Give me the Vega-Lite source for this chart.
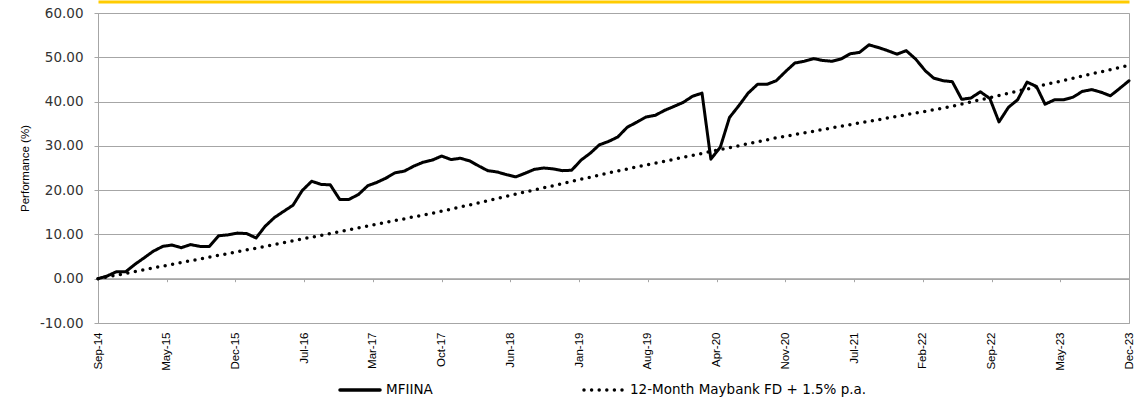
{
  "$schema": "https://vega.github.io/schema/vega-lite/v6.json",
  "width": 1031,
  "height": 310,
  "autosize": {"type": "none"},
  "padding": {"left": 98, "top": 13, "right": 14, "bottom": 77},
  "background": "white",
  "data": {"values": [
    {"date": "2014-09-01", "fund": 0.0, "fd": 0.0},
    {"date": "2014-10-01", "fund": 0.6, "fd": 0.41},
    {"date": "2014-11-01", "fund": 1.6, "fd": 0.81},
    {"date": "2014-12-01", "fund": 1.6, "fd": 1.22},
    {"date": "2015-01-01", "fund": 3.3, "fd": 1.62},
    {"date": "2015-02-01", "fund": 4.8, "fd": 2.03},
    {"date": "2015-03-01", "fund": 6.2, "fd": 2.43},
    {"date": "2015-04-01", "fund": 7.3, "fd": 2.84},
    {"date": "2015-05-01", "fund": 7.6, "fd": 3.24},
    {"date": "2015-06-01", "fund": 7.0, "fd": 3.65},
    {"date": "2015-07-01", "fund": 7.7, "fd": 4.06},
    {"date": "2015-08-01", "fund": 7.3, "fd": 4.46},
    {"date": "2015-09-01", "fund": 7.3, "fd": 4.87},
    {"date": "2015-10-01", "fund": 9.7, "fd": 5.27},
    {"date": "2015-11-01", "fund": 9.9, "fd": 5.68},
    {"date": "2015-12-01", "fund": 10.3, "fd": 6.08},
    {"date": "2016-01-01", "fund": 10.2, "fd": 6.49},
    {"date": "2016-02-01", "fund": 9.2, "fd": 6.89},
    {"date": "2016-03-01", "fund": 11.8, "fd": 7.30},
    {"date": "2016-04-01", "fund": 13.8, "fd": 7.72},
    {"date": "2016-05-01", "fund": 15.2, "fd": 8.13},
    {"date": "2016-06-01", "fund": 16.6, "fd": 8.55},
    {"date": "2016-07-01", "fund": 19.9, "fd": 8.96},
    {"date": "2016-08-01", "fund": 22.0, "fd": 9.38},
    {"date": "2016-09-01", "fund": 21.3, "fd": 9.80},
    {"date": "2016-10-01", "fund": 21.2, "fd": 10.21},
    {"date": "2016-11-01", "fund": 17.9, "fd": 10.63},
    {"date": "2016-12-01", "fund": 17.9, "fd": 11.04},
    {"date": "2017-01-01", "fund": 19.0, "fd": 11.46},
    {"date": "2017-02-01", "fund": 21.0, "fd": 11.88},
    {"date": "2017-03-01", "fund": 21.7, "fd": 12.29},
    {"date": "2017-04-01", "fund": 22.7, "fd": 12.71},
    {"date": "2017-05-01", "fund": 23.9, "fd": 13.12},
    {"date": "2017-06-01", "fund": 24.3, "fd": 13.54},
    {"date": "2017-07-01", "fund": 25.4, "fd": 13.96},
    {"date": "2017-08-01", "fund": 26.3, "fd": 14.37},
    {"date": "2017-09-01", "fund": 26.8, "fd": 14.79},
    {"date": "2017-10-01", "fund": 27.7, "fd": 15.24},
    {"date": "2017-11-01", "fund": 26.9, "fd": 15.72},
    {"date": "2017-12-01", "fund": 27.2, "fd": 16.20},
    {"date": "2018-01-01", "fund": 26.6, "fd": 16.68},
    {"date": "2018-02-01", "fund": 25.4, "fd": 17.16},
    {"date": "2018-03-01", "fund": 24.4, "fd": 17.65},
    {"date": "2018-04-01", "fund": 24.1, "fd": 18.13},
    {"date": "2018-05-01", "fund": 23.5, "fd": 18.61},
    {"date": "2018-06-01", "fund": 23.0, "fd": 19.09},
    {"date": "2018-07-01", "fund": 23.8, "fd": 19.57},
    {"date": "2018-08-01", "fund": 24.7, "fd": 20.05},
    {"date": "2018-09-01", "fund": 25.0, "fd": 20.53},
    {"date": "2018-10-01", "fund": 24.8, "fd": 21.01},
    {"date": "2018-11-01", "fund": 24.4, "fd": 21.49},
    {"date": "2018-12-01", "fund": 24.5, "fd": 21.97},
    {"date": "2019-01-01", "fund": 26.8, "fd": 22.46},
    {"date": "2019-02-01", "fund": 28.4, "fd": 22.94},
    {"date": "2019-03-01", "fund": 30.2, "fd": 23.42},
    {"date": "2019-04-01", "fund": 31.0, "fd": 23.90},
    {"date": "2019-05-01", "fund": 32.0, "fd": 24.34},
    {"date": "2019-06-01", "fund": 34.2, "fd": 24.78},
    {"date": "2019-07-01", "fund": 35.3, "fd": 25.22},
    {"date": "2019-08-01", "fund": 36.5, "fd": 25.66},
    {"date": "2019-09-01", "fund": 36.9, "fd": 26.09},
    {"date": "2019-10-01", "fund": 38.0, "fd": 26.53},
    {"date": "2019-11-01", "fund": 38.9, "fd": 26.97},
    {"date": "2019-12-01", "fund": 39.8, "fd": 27.41},
    {"date": "2020-01-01", "fund": 41.2, "fd": 27.85},
    {"date": "2020-02-01", "fund": 41.9, "fd": 28.29},
    {"date": "2020-03-01", "fund": 27.0, "fd": 28.73},
    {"date": "2020-04-01", "fund": 29.7, "fd": 29.17},
    {"date": "2020-05-01", "fund": 36.4, "fd": 29.61},
    {"date": "2020-06-01", "fund": 39.1, "fd": 30.04},
    {"date": "2020-07-01", "fund": 41.9, "fd": 30.48},
    {"date": "2020-08-01", "fund": 43.9, "fd": 30.92},
    {"date": "2020-09-01", "fund": 43.9, "fd": 31.36},
    {"date": "2020-10-01", "fund": 44.7, "fd": 31.80},
    {"date": "2020-11-01", "fund": 46.8, "fd": 32.17},
    {"date": "2020-12-01", "fund": 48.7, "fd": 32.55},
    {"date": "2021-01-01", "fund": 49.1, "fd": 32.92},
    {"date": "2021-02-01", "fund": 49.7, "fd": 33.30},
    {"date": "2021-03-01", "fund": 49.3, "fd": 33.67},
    {"date": "2021-04-01", "fund": 49.1, "fd": 34.05},
    {"date": "2021-05-01", "fund": 49.6, "fd": 34.42},
    {"date": "2021-06-01", "fund": 50.8, "fd": 34.79},
    {"date": "2021-07-01", "fund": 51.1, "fd": 35.17},
    {"date": "2021-08-01", "fund": 52.8, "fd": 35.54},
    {"date": "2021-09-01", "fund": 52.2, "fd": 35.92},
    {"date": "2021-10-01", "fund": 51.5, "fd": 36.29},
    {"date": "2021-11-01", "fund": 50.7, "fd": 36.67},
    {"date": "2021-12-01", "fund": 51.5, "fd": 37.04},
    {"date": "2022-01-01", "fund": 49.6, "fd": 37.42},
    {"date": "2022-02-01", "fund": 47.0, "fd": 37.79},
    {"date": "2022-03-01", "fund": 45.3, "fd": 38.16},
    {"date": "2022-04-01", "fund": 44.7, "fd": 38.54},
    {"date": "2022-05-01", "fund": 44.5, "fd": 38.95},
    {"date": "2022-06-01", "fund": 40.5, "fd": 39.43},
    {"date": "2022-07-01", "fund": 40.8, "fd": 39.92},
    {"date": "2022-08-01", "fund": 42.2, "fd": 40.41},
    {"date": "2022-09-01", "fund": 40.7, "fd": 40.90},
    {"date": "2022-10-01", "fund": 35.4, "fd": 41.38},
    {"date": "2022-11-01", "fund": 38.7, "fd": 41.87},
    {"date": "2022-12-01", "fund": 40.4, "fd": 42.36},
    {"date": "2023-01-01", "fund": 44.4, "fd": 42.84},
    {"date": "2023-02-01", "fund": 43.4, "fd": 43.33},
    {"date": "2023-03-01", "fund": 39.4, "fd": 43.82},
    {"date": "2023-04-01", "fund": 40.4, "fd": 44.31},
    {"date": "2023-05-01", "fund": 40.4, "fd": 44.79},
    {"date": "2023-06-01", "fund": 41.0, "fd": 45.28},
    {"date": "2023-07-01", "fund": 42.3, "fd": 45.77},
    {"date": "2023-08-01", "fund": 42.7, "fd": 46.25},
    {"date": "2023-09-01", "fund": 42.1, "fd": 46.74},
    {"date": "2023-10-01", "fund": 41.3, "fd": 47.23},
    {"date": "2023-11-01", "fund": 43.0, "fd": 47.71},
    {"date": "2023-12-01", "fund": 44.7, "fd": 48.20}
  ]},
  "resolve": {"axis": {"x": "independent", "y": "independent"}},
  "layer": [
    {
      "mark": {"type": "rule", "color": "#a6a6a6", "strokeWidth": 1},
      "encoding": {
        "x": {"aggregate": "min", "field": "date", "type": "temporal",
              "scale": {"type": "utc", "domain": [1409529600000, 1701388800000], "nice": false},
              "axis": {"orient": "bottom", "offset": -44.3, "values": [1409529600000, 1428986880000, 1448444160000, 1467901440000, 1487358720000, 1506816000000, 1526273280000, 1545730560000, 1565187840000, 1584645120000, 1604102400000, 1623559680000, 1643016960000, 1662474240000, 1681931520000, 1701388800000],
                       "labels": false, "domain": false, "grid": false, "ticks": true, "tickSize": 3, "tickColor": "#a6a6a6", "title": null}},
        "x2": {"aggregate": "max", "field": "date"},
        "y": {"datum": 0, "type": "quantitative",
              "scale": {"domain": [-10, 60], "nice": false, "zero": false},
              "axis": {"orient": "left", "values": [-10, 0, 10, 20, 30, 40, 50, 60],
                       "labelExpr": "(datum.value < 0 ? '-' : '') + format(abs(datum.value), '.2f')",
                       "labelFont": "DejaVu Sans", "labelFontSize": 13.5, "labelColor": "#333333",
                       "labelPadding": 11, "tickSize": 4, "tickColor": "#a6a6a6", "domainColor": "#a6a6a6",
                       "grid": true, "gridColor": "#a6a6a6",
                       "title": "Performance (%)", "titleFont": "Liberation Sans", "titleFontSize": 11.5,
                       "titleFontWeight": "normal", "titleColor": "black",
                       "titleAngle": 270, "titleX": -73, "titleY": 155, "titleAlign": "center", "titleBaseline": "middle"}}
      }
    },
    {
      "mark": {"type": "line", "color": "black", "strokeWidth": 3, "strokeJoin": "round", "strokeCap": "round"},
      "encoding": {
        "x": {"field": "date", "type": "temporal",
              "scale": {"type": "utc", "domain": [1409529600000, 1701388800000], "nice": false},
              "axis": {"orient": "bottom", "values": [1409529600000, 1428986880000, 1448444160000, 1467901440000, 1487358720000, 1506816000000, 1526273280000, 1545730560000, 1565187840000, 1584645120000, 1604102400000, 1623559680000, 1643016960000, 1662474240000, 1681931520000, 1701388800000],
                       "labelExpr": "['Sep-14','May-15','Dec-15','Jul-16','Mar-17','Oct-17','Jun-18','Jan-19','Aug-19','Apr-20','Nov-20','Jul-21','Feb-22','Sep-22','May-23','Dec-23'][round((datum.value - 1409529600000) / 19457280000)]",
                       "labelAngle": 270, "labelAlign": "right", "labelBaseline": "middle", "labelPadding": 9,
                       "ticks": false, "tickSize": 0, "grid": false, "domainColor": "#a6a6a6",
                       "labelFont": "Liberation Sans", "labelFontSize": 11.5, "labelColor": "black",
                       "labelOverlap": false, "labelFlush": false, "title": null}},
        "y": {"field": "fund", "type": "quantitative", "axis": null},
        "strokeDash": {"datum": "MFIINA", "type": "nominal",
                       "scale": {"domain": ["MFIINA", "12-Month Maybank FD + 1.5% p.a."], "range": [[1, 0], [0, 7.6]]},
                       "legend": {"orient": "none", "legendX": 240, "legendY": 355, "direction": "horizontal", "title": null,
                                  "symbolType": "stroke", "symbolSize": 1600, "symbolStrokeWidth": 3.5, "symbolStrokeColor": "black",
                                  "labelFont": "DejaVu Sans", "labelFontSize": 13.5, "labelColor": "black", "labelOffset": 4,
                                  "labelLimit": 400, "columnPadding": 144,
                                  "encode": {"symbols": {"update": {"strokeCap": {"value": "round"}}}}}}
      }
    },
    {
      "mark": {"type": "line", "color": "black", "strokeWidth": 3.5, "strokeCap": "round"},
      "encoding": {
        "x": {"field": "date", "type": "temporal",
              "scale": {"type": "utc", "domain": [1409529600000, 1701388800000], "nice": false},
              "axis": {"orient": "top", "offset": 11.5, "domain": true, "domainColor": "#FFCC00", "domainWidth": 3,
                       "labels": false, "ticks": false, "grid": false, "title": null}},
        "y": {"field": "fd", "type": "quantitative", "axis": null},
        "strokeDash": {"datum": "12-Month Maybank FD + 1.5% p.a.", "type": "nominal"}
      }
    }
  ],
  "config": {
    "view": {"stroke": "#a6a6a6"},
    "axis": {"domainColor": "#a6a6a6", "tickColor": "#a6a6a6", "gridColor": "#a6a6a6"}
  }
}
